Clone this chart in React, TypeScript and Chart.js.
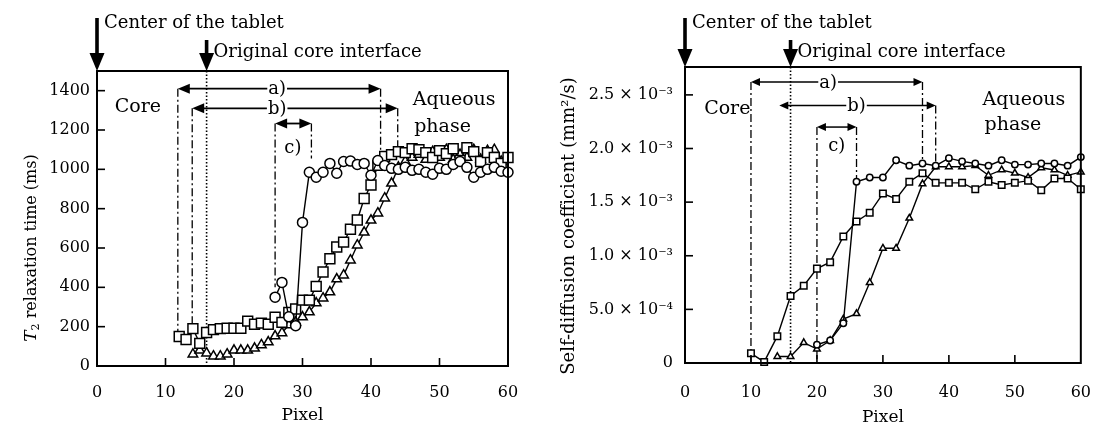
import React, { useEffect, useRef } from 'react';
import { Chart, registerables } from 'chart.js';

Chart.register(...registerables);

const SERIF = '"DejaVu Serif", "Liberation Serif", serif';

// ---------------- data : left panel (T2 relaxation time, ms) ----------------
const leftPixels = [12, 13, 14, 15, 16, 17, 18, 19, 20, 21, 22, 23, 24, 25, 26, 27, 28, 29, 30, 31, 32, 33, 34, 35, 36, 37, 38, 39, 40, 41, 42, 43, 44, 45, 46, 47, 48, 49, 50, 51, 52, 53, 54, 55, 56, 57, 58, 59, 60];
const leftSquares = [150, 135, 190, 115, 170, 185, 190, 192, 192, 192, 228, 212, 218, 212, 248, 222, 272, 290, 335, 335, 405, 478, 545, 605, 630, 695, 742, 852, 920, 1020, 1066, 1075, 1090, 1085, 1105, 1100, 1085, 1060, 1095, 1080, 1105, 1045, 1110, 1090, 1040, 1085, 1060, 1030, 1060];
const leftCircles = [null, null, null, null, null, null, null, null, null, null, null, null, null, null, 350, 425, 250, 205, 730, 985, 960, 985, 1030, 980, 1040, 1042, 1025, 1030, 970, 1045, 1020, 1005, 1000, 1010, 995, 1000, 985, 975, 1005, 1000, 1025, 1040, 1010, 960, 985, 1000, 1010, 990, 985];
const leftTriangles = [null, null, 60, 80, 65, 50, 50, 60, 80, 80, 80, 90, 107, 122, 152, 168, 208, 223, 249, 274, 320, 345, 376, 442, 462, 538, 614, 680, 741, 777, 853, 929, 1010, 1040, 1060, 1075, 1050, 1090, 1060, 1100, 1050, 1075, 1060, 1100, 1050, 1095, 1100, 1040, null];
const leftYTickValues = [0, 200, 400, 600, 800, 1000, 1200, 1400];

// ---------------- data : right panel (self-diffusion coefficient, mm2/s) ----------------
const rightPixels = [10, 12, 14, 16, 18, 20, 22, 24, 26, 28, 30, 32, 34, 36, 38, 40, 42, 44, 46, 48, 50, 52, 54, 56, 58, 60];
const rightSquares = [0.09e-3, 0.01e-3, 0.25e-3, 0.625e-3, 0.72e-3, 0.88e-3, 0.94e-3, 1.18e-3, 1.32e-3, 1.40e-3, 1.58e-3, 1.53e-3, 1.69e-3, 1.77e-3, 1.68e-3, 1.68e-3, 1.68e-3, 1.62e-3, 1.69e-3, 1.66e-3, 1.68e-3, 1.70e-3, 1.61e-3, 1.72e-3, 1.72e-3, 1.62e-3];
const rightCircles = [null, null, null, null, null, 0.17e-3, 0.21e-3, 0.37e-3, 1.69e-3, 1.73e-3, 1.73e-3, 1.89e-3, 1.84e-3, 1.86e-3, 1.84e-3, 1.91e-3, 1.88e-3, 1.86e-3, 1.84e-3, 1.89e-3, 1.85e-3, 1.85e-3, 1.86e-3, 1.86e-3, 1.84e-3, 1.92e-3];
const rightTriangles = [null, null, 0.06e-3, 0.06e-3, 0.19e-3, 0.13e-3, 0.21e-3, 0.41e-3, 0.46e-3, 0.75e-3, 1.07e-3, 1.07e-3, 1.35e-3, 1.67e-3, 1.83e-3, 1.83e-3, 1.83e-3, 1.84e-3, 1.75e-3, 1.80e-3, 1.77e-3, 1.73e-3, 1.82e-3, 1.80e-3, 1.75e-3, 1.78e-3];
const rightYTickValues = [0, 0.5e-3, 1.0e-3, 1.5e-3, 2.0e-3, 2.5e-3];
const rightYTickLabels = ['0', '5.0 × 10⁻⁴', '1.0 × 10⁻³', '1.5 × 10⁻³', '2.0 × 10⁻³', '2.5 × 10⁻³'];

const xTickValues = [0, 10, 20, 30, 40, 50, 60];
const xInnerTicks = [10, 20, 30, 40, 50];

// ---------------- annotations (in data units) ----------------
const centerPixel = 0;
const interfacePixel = 16;
const topTexts = ['Center of the tablet', 'Original core interface'];

const leftSpans = [
  { label: 'a)', from: 11.8, to: 41.4, y: 1410, labelAt: 26.3 },
  { label: 'b)', from: 13.9, to: 43.9, y: 1310, labelAt: 26.3 },
  { label: '', from: 26, to: 31.3, y: 1233, labelAt: 0 },
];
const leftGuides = [
  [11.8, 1410, 165],
  [13.9, 1310, 210],
  [41.4, 1410, 1080],
  [43.9, 1310, 1095],
  [26, 1233, 400],
  [31.3, 1233, 1055],
];
const leftNotes = [
  { text: 'c)', x: 28.6, y: 1107, align: 'center' },
  { text: 'Core', x: 2.6, y: 1315, align: 'left' },
  { text: 'Aqueous', x: 46.1, y: 1350, align: 'left' },
  { text: 'phase', x: 46.3, y: 1213, align: 'left' },
];

const rightSpans = [
  { label: 'a)', from: 10, to: 36, y: 2.62e-3, labelAt: 21.7 },
  { label: 'b)', from: 14.3, to: 38, y: 2.40e-3, labelAt: 26 },
  { label: '', from: 20, to: 26, y: 2.20e-3, labelAt: 0 },
];
const rightGuides = [
  [10, 2.62e-3, 0],
  [36, 2.62e-3, 1.87e-3],
  [38, 2.40e-3, 1.83e-3],
  [20, 2.20e-3, 0],
  [26, 2.20e-3, 1.69e-3],
];
const rightNotes = [
  { text: 'c)', x: 23, y: 2.02e-3, align: 'center' },
  { text: 'Core', x: 2.9, y: 2.37e-3, align: 'left' },
  { text: 'Aqueous', x: 45.1, y: 2.45e-3, align: 'left' },
  { text: 'phase', x: 45.4, y: 2.22e-3, align: 'left' },
];

// ---------------- panel settings ----------------
const PANELS: any = {
  left: {
    canvasLeft: 0, canvasWidth: 555,
    padding: { left: 0, right: 47, top: 71, bottom: 0 },
    yWidth: 97, xHeight: 63,
    yMax: 1500, yTicks: leftYTickValues,
    xs: leftPixels, series: [leftCircles, leftSquares, leftTriangles],
    radii: [5, 7, 5.5],
    spans: leftSpans, guides: leftGuides, notes: leftNotes,
    head: { len: 12, half: 5 }, spanWidth: 1.8,
    xTickPad: 17, xTitlePad: 3, yTickPad: 7,
    titleX: 30, titleY: 248,
  },
  right: {
    canvasLeft: 555, canvasWidth: 556,
    padding: { left: 0, right: 16, top: 67, bottom: 0 },
    yWidth: 130, xHeight: 66,
    yMax: 2.76e-3, yTicks: rightYTickValues,
    xs: rightPixels, series: [rightCircles, rightSquares, rightTriangles],
    radii: [3.2, 4.6, 3.8],
    spans: rightSpans, guides: rightGuides, notes: rightNotes,
    head: { len: 9, half: 4 }, spanWidth: 1.5,
    xTickPad: 20, xTitlePad: 1, yTickPad: 12,
    titleX: 13, titleY: 226,
  },
};

function line(ctx: any, x1: number, y1: number, x2: number, y2: number) {
  ctx.beginPath();
  ctx.moveTo(x1, y1);
  ctx.lineTo(x2, y2);
  ctx.stroke();
}

function downArrow(ctx: any, x: number, yTop: number, yTip: number) {
  const headLen = 18, half = 7.5, shaft = 3.6;
  ctx.fillRect(x - shaft / 2, yTop, shaft, yTip - headLen - yTop + 1);
  ctx.beginPath();
  ctx.moveTo(x - half, yTip - headLen);
  ctx.lineTo(x + half, yTip - headLen);
  ctx.lineTo(x, yTip);
  ctx.closePath();
  ctx.fill();
}

function makePlugin(which: string) {
  const p = PANELS[which];
  return {
    id: 'annot_' + which,
    beforeDatasetsDraw(chart: any) {
      const { ctx, chartArea: a, scales } = chart;
      const sx = scales.x, sy = scales.y;
      ctx.save();
      ctx.strokeStyle = '#000';
      ctx.fillStyle = '#000';
      // dotted line at original interface
      ctx.lineWidth = 1.6;
      ctx.setLineDash([1.5, 2]);
      const dx = sx.getPixelForValue(interfacePixel);
      line(ctx, dx, a.top, dx, a.bottom);
      // dash-dot guides
      ctx.lineWidth = 1.3;
      ctx.setLineDash([8, 3, 2, 3]);
      p.guides.forEach((g: number[]) => {
        const gx = sx.getPixelForValue(g[0]);
        line(ctx, gx, sy.getPixelForValue(g[1]), gx, sy.getPixelForValue(g[2]));
      });
      ctx.setLineDash([]);
      // double-headed spans
      ctx.font = '18px ' + SERIF;
      ctx.textAlign = 'center';
      ctx.textBaseline = 'middle';
      ctx.lineWidth = p.spanWidth;
      p.spans.forEach((s: any) => {
        const x1 = sx.getPixelForValue(s.from), x2 = sx.getPixelForValue(s.to);
        const y = sy.getPixelForValue(s.y);
        const L = p.head.len, H = p.head.half;
        if (s.label) {
          const lx = sx.getPixelForValue(s.labelAt);
          const w = ctx.measureText(s.label).width;
          line(ctx, x1 + L - 1, y, lx - w / 2 - 1, y);
          line(ctx, lx + w / 2 + 1, y, x2 - L + 1, y);
          ctx.fillText(s.label, lx, y + 1);
        } else {
          line(ctx, x1 + L - 1, y, x2 - L + 1, y);
        }
        ctx.beginPath();
        ctx.moveTo(x1, y); ctx.lineTo(x1 + L, y - H); ctx.lineTo(x1 + L, y + H); ctx.closePath(); ctx.fill();
        ctx.beginPath();
        ctx.moveTo(x2, y); ctx.lineTo(x2 - L, y - H); ctx.lineTo(x2 - L, y + H); ctx.closePath(); ctx.fill();
      });
      ctx.restore();
    },
    afterDraw(chart: any) {
      const { ctx, chartArea: a, scales } = chart;
      const sx = scales.x, sy = scales.y;
      ctx.save();
      ctx.strokeStyle = '#000';
      ctx.fillStyle = '#000';
      // frame
      ctx.lineWidth = 2;
      ctx.strokeRect(a.left, a.top, a.right - a.left, a.bottom - a.top);
      // inward ticks
      ctx.lineWidth = 1.6;
      p.yTicks.forEach((v: number) => {
        if (v === 0) return;
        const y = sy.getPixelForValue(v);
        line(ctx, a.left, y, a.left + 8, y);
      });
      xInnerTicks.forEach((v) => {
        const x = sx.getPixelForValue(v);
        line(ctx, x, a.bottom, x, a.bottom - 8);
      });
      // notes in plot
      ctx.textBaseline = 'middle';
      p.notes.forEach((n: any) => {
        ctx.font = (n.text === 'c)' ? '18px ' : '19px ') + SERIF;
        ctx.textAlign = n.align;
        ctx.fillText(n.text, sx.getPixelForValue(n.x), sy.getPixelForValue(n.y));
      });
      // top arrows
      const cx = sx.getPixelForValue(centerPixel);
      const ix = sx.getPixelForValue(interfacePixel);
      downArrow(ctx, cx, 18, a.top);
      downArrow(ctx, ix, 40, a.top);
      ctx.font = '18px ' + SERIF;
      ctx.textAlign = 'left';
      ctx.textBaseline = 'alphabetic';
      ctx.fillText(topTexts[0], cx + 7, 28);
      ctx.fillText(topTexts[1], ix + 7, 57);
      // y-axis title
      ctx.translate(p.titleX, p.titleY);
      ctx.rotate(-Math.PI / 2);
      if (which === 'left') {
        const f1 = 'italic 17px ' + SERIF, f2 = '11px ' + SERIF, f3 = '16px ' + SERIF;
        const t1 = 'T', t2 = '2', t3 = ' relaxation time (ms)';
        ctx.font = f1; const w1 = ctx.measureText(t1).width;
        ctx.font = f2; const w2 = ctx.measureText(t2).width;
        ctx.font = f3; const w3 = ctx.measureText(t3).width;
        let x = -(w1 + w2 + w3) / 2;
        ctx.font = f1; ctx.fillText(t1, x, 6); x += w1;
        ctx.font = f2; ctx.fillText(t2, x, 9); x += w2;
        ctx.font = f3; ctx.fillText(t3, x, 6);
      } else {
        ctx.font = '18px ' + SERIF;
        ctx.textAlign = 'center';
        ctx.fillText('Self-diffusion coefficient (mm²/s)', 0, 6);
      }
      ctx.restore();
    },
  };
}

function Panel({ which }: { which: string }) {
  const ref = useRef<HTMLCanvasElement | null>(null);
  const p = PANELS[which];
  useEffect(() => {
    if (!ref.current) return;
    const styles = ['circle', 'rect', 'triangle'];
    const datasets = p.series.map((ys: any[], k: number) => ({
      label: styles[k],
      data: p.xs.map((x: number, i: number) => ({ x, y: ys[i] })),
      borderColor: '#000',
      backgroundColor: '#fff',
      borderWidth: 1.4,
      pointStyle: styles[k],
      pointRadius: p.radii[k],
      pointBorderWidth: 1.5,
      pointBackgroundColor: '#fff',
      pointBorderColor: '#000',
      tension: 0,
      spanGaps: false,
      clip: false,
    }));
    const tickFont = { family: SERIF, size: 16 };
    const chart = new Chart(ref.current, {
      type: 'line',
      data: { datasets },
      options: {
        animation: false,
        responsive: false,
        maintainAspectRatio: false,
        devicePixelRatio: 1,
        events: [],
        layout: { padding: p.padding },
        plugins: { legend: { display: false }, tooltip: { enabled: false } },
        scales: {
          x: {
            type: 'linear',
            min: 0,
            max: 60,
            afterBuildTicks: (s: any) => { s.ticks = xTickValues.map((v) => ({ value: v })); },
            afterFit: (s: any) => { s.height = p.xHeight; },
            grid: { display: false, drawTicks: false },
            border: { display: false },
            ticks: { font: tickFont, color: '#000', padding: p.xTickPad, autoSkip: false, maxRotation: 0 },
            title: { display: true, text: 'Pixel', color: '#000', font: { family: SERIF, size: 17 }, padding: { top: 0, bottom: p.xTitlePad } },
          },
          y: {
            type: 'linear',
            min: 0,
            max: p.yMax,
            afterBuildTicks: (s: any) => { s.ticks = p.yTicks.map((v: number) => ({ value: v })); },
            afterFit: (s: any) => { s.width = p.yWidth; },
            grid: { display: false, drawTicks: false },
            border: { display: false },
            ticks: {
              font: tickFont,
              color: '#000',
              padding: p.yTickPad,
              autoSkip: false,
              callback: (v: any) => which === 'left' ? String(v) : rightYTickLabels[rightYTickValues.indexOf(v)],
            },
          },
        },
      },
      plugins: [makePlugin(which)],
    } as any);
    return () => chart.destroy();
  }, []);
  return (
    <div style={{ position: 'absolute', left: p.canvasLeft, top: 0, width: p.canvasWidth, height: 429 }}>
      <canvas ref={ref} width={p.canvasWidth} height={429} style={{ display: 'block' }} />
    </div>
  );
}

export default function App() {
  return (
    <div style={{ position: 'fixed', left: 0, top: 0, width: 1111, height: 429, background: '#fff', overflow: 'hidden' }}>
      <Panel which="left" />
      <Panel which="right" />
    </div>
  );
}
